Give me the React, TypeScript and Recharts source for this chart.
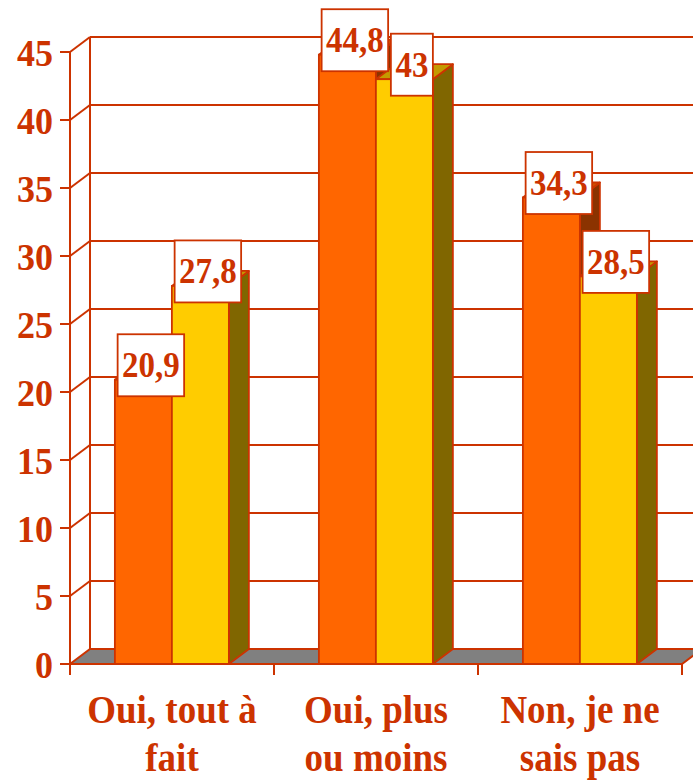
import React from 'react';
import { BarChart, Bar, XAxis, YAxis, CartesianGrid, LabelList } from 'recharts';

const categories = ['Oui, tout à fait', 'Oui, plus ou moins', 'Non, je ne sais pas'];
const categoryLines = [
  ['Oui, tout à', 'fait'],
  ['Oui, plus', 'ou moins'],
  ['Non, je ne', 'sais pas'],
];
const seriesA = [20.9, 44.8, 34.3];
const seriesB = [27.8, 43, 28.5];
const yTicks = [0, 5, 10, 15, 20, 25, 30, 35, 40, 45];

const data = categories.map((c, i) => ({ name: c, a: seriesA[i], b: seriesB[i] }));

const RED = '#CC3300';
const FONT = "'Liberation Serif', 'Times New Roman', serif";
const DX = 20;
const DY = 15;

const make3D = (front: string, side: string, top: string) => (p: any) => {
  const { x, y, width: w, height: h } = p;
  if (w == null || h == null || isNaN(x) || isNaN(y)) return <g />;
  return (
    <g>
      <polygon
        points={`${x + w},${y} ${x + w + DX},${y - DY} ${x + w + DX},${y + h - DY} ${x + w},${y + h}`}
        fill={side}
        stroke={RED}
        strokeWidth={1.8}
        strokeLinejoin="round"
      />
      <polygon
        points={`${x},${y} ${x + DX},${y - DY} ${x + w + DX},${y - DY} ${x + w},${y}`}
        fill={top}
        stroke={RED}
        strokeWidth={1.8}
        strokeLinejoin="round"
      />
      <rect x={x} y={y} width={w} height={h} fill={front} stroke={RED} strokeWidth={1.8} />
    </g>
  );
};

const shapeA = make3D('#FF6600', '#8B3300', '#CC5200');
const shapeB = make3D('#FFCC00', '#806600', '#C49A00');

const gridLine = (p: any) => {
  const { x1, y1, x2, key } = p;
  const bottom = (p.y ?? 0) + (p.height ?? 0);
  const isFloor = Math.abs(y1 - bottom) < 0.6;
  if (isFloor) {
    return (
      <g key={key}>
        <polygon
          points={`${x1},${y1} ${x1 + DX},${y1 - DY} ${x2 + DX},${y1 - DY} ${x2},${y1}`}
          fill="#808080"
          stroke={RED}
          strokeWidth={2}
        />
        <line x1={x1 + DX} y1={p.y - DY} x2={x1 + DX} y2={y1 - DY} stroke={RED} strokeWidth={2} />
      </g>
    );
  }
  return (
    <g key={key}>
      <line x1={x1} y1={y1} x2={x1 + DX} y2={y1 - DY} stroke={RED} strokeWidth={2} />
      <line x1={x1 + DX} y1={y1 - DY} x2={x2 + DX} y2={y1 - DY} stroke={RED} strokeWidth={2} />
    </g>
  );
};

const YTick = (p: any) => (
  <text
    transform={`translate(${p.x},${p.y + 14}) scale(1,1.05)`}
    textAnchor="end"
    fill={RED}
    fontFamily={FONT}
    fontWeight="bold"
    fontSize={36}
  >
    {p.payload.value}
  </text>
);

const XTick = (p: any) => {
  const { x, y, payload, index } = p;
  const n = p.visibleTicksCount || categories.length;
  const w = p.width || 612;
  const half = w / n / 2;
  const idx = categories.indexOf(payload.value);
  const lines = categoryLines[idx >= 0 ? idx : index] || [String(payload.value)];
  return (
    <g>
      <line x1={x - half} y1={y} x2={x - half} y2={y + 11} stroke={RED} strokeWidth={2} />
      {index === n - 1 && (
        <line x1={x + half} y1={y} x2={x + half} y2={y + 11} stroke={RED} strokeWidth={2} />
      )}
      {lines.map((t, i) => (
        <text
          key={i}
          transform={`translate(${x},${y + 59 + i * 48}) scale(1,1.1)`}
          textAnchor="middle"
          fill={RED}
          fontFamily={FONT}
          fontWeight="bold"
          fontSize={37}
        >
          {t}
        </text>
      ))}
    </g>
  );
};

const renderLabel = (p: any) => {
  const { x, y, width, value } = p;
  if (value == null) return null;
  const txt = String(value).replace('.', ',');
  const digits = txt.replace(',', '').length;
  const bw = digits * 16.5 + (txt.includes(',') ? 8 : 0) + 9;
  const cx = x + width / 2 + DX / 2 - 2.5;
  const cy = y - DY / 2 - 7;
  return (
    <g>
      <rect x={cx - bw / 2} y={cy - 31} width={bw} height={62} fill="#FFFFFF" stroke={RED} strokeWidth={1.8} />
      <text
        transform={`translate(${cx},${cy + 12}) scale(1,1.1)`}
        textAnchor="middle"
        fill={RED}
        fontFamily={FONT}
        fontWeight="bold"
        fontSize={33}
      >
        {txt}
      </text>
    </g>
  );
};

export default function App() {
  return (
    <div style={{ position: 'absolute', left: 0, top: 0, width: 693, height: 780, background: '#fff' }}>
      <BarChart
        width={693}
        height={780}
        data={data}
        margin={{ top: 52, right: 11, bottom: 0, left: 0 }}
        barCategoryGap="22%"
        barGap={0}
      >
        <CartesianGrid horizontal={gridLine as any} vertical={false} />
        <XAxis
          dataKey="name"
          height={116}
          axisLine={{ stroke: RED, strokeWidth: 2 }}
          tickLine={false}
          tickSize={0}
          tickMargin={0}
          interval={0}
          tick={<XTick />}
        />
        <YAxis
          width={70}
          domain={[0, 45]}
          ticks={yTicks}
          interval={0}
          axisLine={{ stroke: RED, strokeWidth: 2 }}
          tickLine={{ stroke: RED, strokeWidth: 2 }}
          tickSize={10}
          tickMargin={7}
          tick={<YTick />}
        />
        <Bar dataKey="a" fill="#FF6600" shape={shapeA} isAnimationActive={false}>
          <LabelList dataKey="a" content={renderLabel} />
        </Bar>
        <Bar dataKey="b" fill="#FFCC00" shape={shapeB} isAnimationActive={false}>
          <LabelList dataKey="b" content={renderLabel} />
        </Bar>
      </BarChart>
    </div>
  );
}
